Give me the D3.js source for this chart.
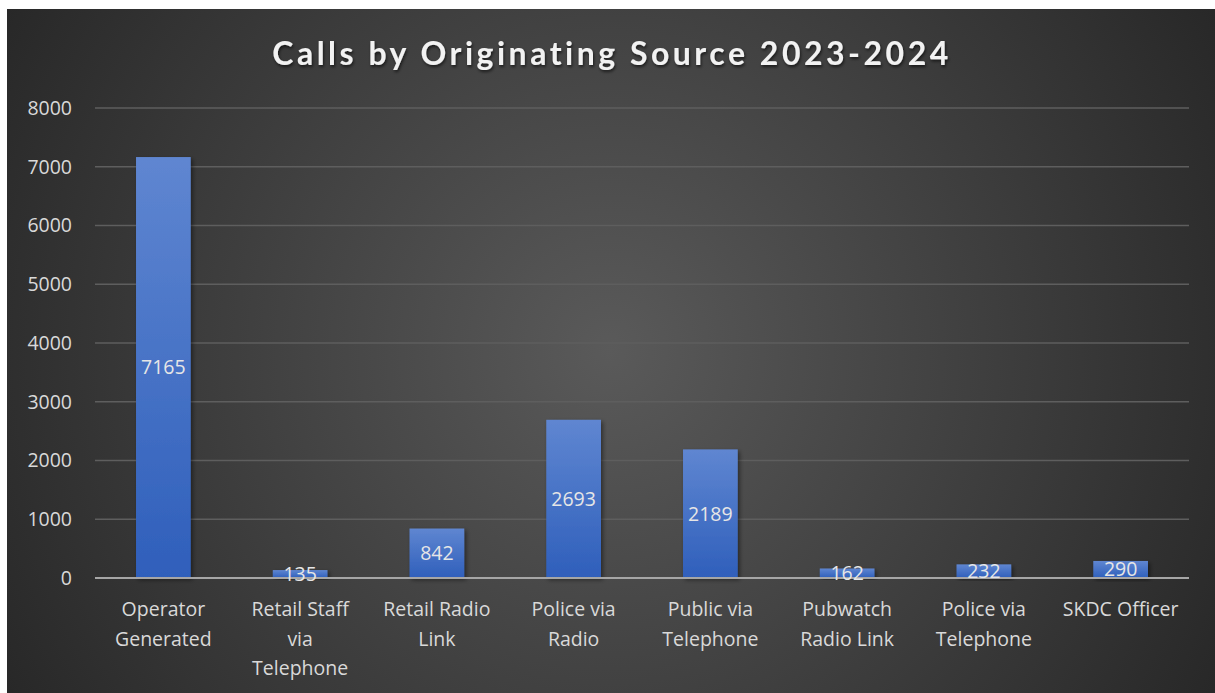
<!DOCTYPE html>
<html>
<head>
<meta charset="utf-8">
<script src="https://cdn.jsdelivr.net/npm/d3@7"></script>
<style>
  html, body { margin: 0; padding: 0; background: #fff; }
  svg { display: block; }
</style>
</head>
<body>
<div id="chart-area"></div>
<script>
// chart data
const categories = [
  "Operator Generated", "Retail Staff via Telephone", "Retail Radio Link",
  "Police via Radio", "Public via Telephone", "Pubwatch Radio Link",
  "Police via Telephone", "SKDC Officer"
];
const categoryLines = [
  ["Operator", "Generated"], ["Retail Staff", "via", "Telephone"], ["Retail Radio", "Link"],
  ["Police via", "Radio"], ["Public via", "Telephone"], ["Pubwatch", "Radio Link"],
  ["Police via", "Telephone"], ["SKDC Officer"]
];
const callCounts = [7165, 135, 842, 2693, 2189, 162, 232, 290];
const yTicks = [0, 1000, 2000, 3000, 4000, 5000, 6000, 7000, 8000];
const chartTitle = "Calls by Originating Source 2023-2024";

const W = 1215, H = 693;
const MARGIN = { LEFT: 95, RIGHT: 26, TOP: 108, BOTTOM: 115 };
const FONT = "'Open Sans', sans-serif";

const svg = d3.select("#chart-area").append("svg")
  .attr("width", W)
  .attr("height", H);

const defs = svg.append("defs");

const bg = defs.append("radialGradient")
  .attr("id", "bg")
  .attr("gradientUnits", "userSpaceOnUse")
  .attr("cx", 610).attr("cy", 350).attr("r", 720);
bg.append("stop").attr("offset", "0%").attr("stop-color", "#5a5a5a");
bg.append("stop").attr("offset", "100%").attr("stop-color", "#262626");

const barGrad = defs.append("linearGradient")
  .attr("id", "bar").attr("x1", 0).attr("y1", 0).attr("x2", 0).attr("y2", 1);
barGrad.append("stop").attr("offset", "0%").attr("stop-color", "#5f86d1");
barGrad.append("stop").attr("offset", "100%").attr("stop-color", "#2f5fbb");

const shadow = defs.append("filter").attr("id", "shadow")
  .attr("x", "-20%").attr("y", "-20%").attr("width", "140%").attr("height", "140%");
shadow.append("feDropShadow")
  .attr("dx", 2).attr("dy", 2).attr("stdDeviation", 2)
  .attr("flood-color", "#000").attr("flood-opacity", 0.45);

const titleShadow = defs.append("filter").attr("id", "tshadow");
titleShadow.append("feDropShadow")
  .attr("dx", 1).attr("dy", 2).attr("stdDeviation", 1.5)
  .attr("flood-color", "#000").attr("flood-opacity", 0.6);

// background panel (white strip top/left like the original crop)
svg.append("rect")
  .attr("x", 7).attr("y", 9)
  .attr("width", W - 7).attr("height", H - 9)
  .attr("fill", "url(#bg)");

svg.append("text")
  .attr("x", 612).attr("y", 65)
  .attr("text-anchor", "middle")
  .attr("fill", "#f2f2f2")
  .attr("font-family", "Lato, sans-serif")
  .attr("font-weight", "bold")
  .attr("font-size", 32)
  .attr("letter-spacing", 3.5)
  .attr("filter", "url(#tshadow)")
  .text(chartTitle);

const x = d3.scaleBand()
  .domain(categories)
  .range([MARGIN.LEFT, W - MARGIN.RIGHT])
  .paddingInner(0.6)
  .paddingOuter(0.3);

const y = d3.scaleLinear()
  .domain([0, 8000])
  .range([H - MARGIN.BOTTOM, MARGIN.TOP]);

// gridlines
svg.append("g")
  .selectAll("line")
  .data(yTicks.slice(1))
  .enter().append("line")
  .attr("x1", MARGIN.LEFT).attr("x2", W - MARGIN.RIGHT)
  .attr("y1", d => y(d)).attr("y2", d => y(d))
  .attr("stroke", "#5e5e5e")
  .attr("stroke-width", 1.5);

// y axis labels
svg.append("g")
  .selectAll("text")
  .data(yTicks)
  .enter().append("text")
  .attr("x", 72)
  .attr("y", d => y(d))
  .attr("dy", "0.35em")
  .attr("text-anchor", "end")
  .attr("fill", "#d9d9d9")
  .attr("font-family", FONT)
  .attr("font-size", 19.5)
  .text(d => d);

// bars
svg.append("g")
  .selectAll("rect")
  .data(callCounts)
  .enter().append("rect")
  .attr("x", (d, i) => x(categories[i]))
  .attr("y", d => y(d))
  .attr("width", x.bandwidth())
  .attr("height", d => y(0) - y(d))
  .attr("fill", "url(#bar)")
  .attr("filter", "url(#shadow)");

// baseline
svg.append("line")
  .attr("x1", MARGIN.LEFT).attr("x2", W - MARGIN.RIGHT)
  .attr("y1", y(0)).attr("y2", y(0))
  .attr("stroke", "#a6a6a6")
  .attr("stroke-width", 2);

// data labels
svg.append("g")
  .selectAll("text")
  .data(callCounts)
  .enter().append("text")
  .attr("x", (d, i) => x(categories[i]) + x.bandwidth() / 2)
  .attr("y", d => (y(d) + y(0)) / 2)
  .attr("dy", "0.35em")
  .attr("text-anchor", "middle")
  .attr("fill", "#e6e6e6")
  .attr("font-family", FONT)
  .attr("font-size", 19.5)
  .text(d => d);

// category labels
const cat = svg.append("g")
  .selectAll("text")
  .data(categories)
  .enter().append("text")
  .attr("x", d => x(d) + x.bandwidth() / 2)
  .attr("y", 616)
  .attr("text-anchor", "middle")
  .attr("fill", "#d9d9d9")
  .attr("font-family", FONT)
  .attr("font-size", 19.5);

cat.selectAll("tspan")
  .data((d, i) => categoryLines[i])
  .enter().append("tspan")
  .attr("x", function() { return this.parentNode.getAttribute("x"); })
  .attr("dy", (d, i) => i === 0 ? 0 : 29.5)
  .text(d => d);
</script>
</body>
</html>
